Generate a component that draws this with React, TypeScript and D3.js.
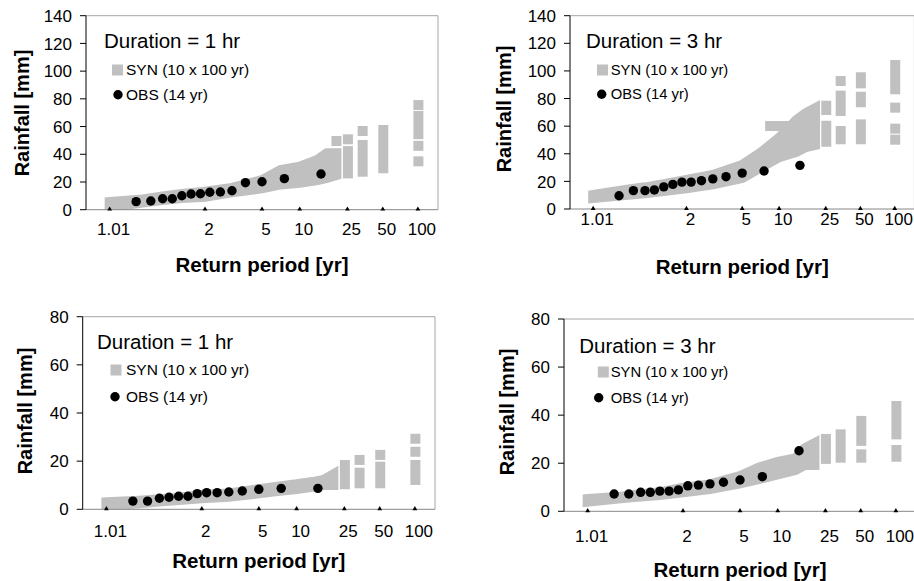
import * as d3 from "d3";

const FONT = "'Liberation Sans', Arial, sans-serif";
const SYN_GRAY = "#c0c0c0";
const BORDER = "#a6a6a6";

// return periods shown on the x axis
const X_TICKS = [1.01, 2, 5, 10, 25, 50, 100];

// observed series: Weibull plotting positions of 14 annual maxima
const OBS_T = [1.07, 1.15, 1.25, 1.36, 1.5, 1.67, 1.88, 2.14, 2.5, 3, 3.75, 5, 7.5, 15];
const OBS_1HR_A = [5.8, 6.3, 7.9, 7.9, 10.1, 11.3, 11.5, 12.6, 12.8, 13.7, 19.5, 20.2, 22.4, 25.8];
const OBS_3HR_A = [9.6, 13.3, 13.3, 13.8, 16.0, 17.8, 19.5, 19.5, 20.5, 21.8, 23.4, 26.0, 27.5, 31.6];
const OBS_1HR_B = [3.4, 3.4, 4.6, 5.0, 5.4, 5.4, 6.5, 6.9, 6.9, 7.2, 7.6, 8.3, 8.7, 8.7];
const OBS_3HR_B = [7.2, 7.2, 7.9, 7.9, 8.4, 8.4, 8.9, 10.6, 10.9, 11.4, 12.1, 13.0, 14.4, 25.2];

// synthetic series: dense part read as lower / upper envelope
const BAND_T = [1.01, 1.1, 1.25, 1.5, 2, 3, 5, 7, 10, 14, 16.8, 20.2];
const SYN_1HR_A_LO = [2.0, 5.2, 7.0, 8.4, 9.4, 12.6, 15.4, 18.2, 19.5, 21.4, 22.9, 25.0];
const SYN_1HR_A_HI = [5.5, 7.4, 9.5, 11.3, 13.0, 15.7, 21.4, 28.6, 31.0, 35.9, 40.7, 40.7];
const SYN_3HR_A_LO = [8.0, 10.1, 11.4, 13.0, 15.0, 17.9, 22.5, 30.0, 37.5, 41.3, 44.9, 46.4];
const SYN_3HR_A_HI = [10.1, 13.8, 15.7, 17.9, 21.0, 24.6, 31.9, 40.6, 51.4, 64.5, 69.3, 72.9];
const SYN_1HR_B_LO = [1.5, 2.5, 3.2, 3.9, 4.6, 5.2, 6.6, 7.6, 8.4, 9.4, 10.1, 10.1];
const SYN_1HR_B_HI = [2.9, 3.6, 4.2, 4.8, 5.9, 6.6, 8.4, 9.4, 10.4, 11.5, 12.2, 14.5];
const SYN_3HR_B_LO = [4.0, 5.4, 6.1, 6.8, 7.9, 9.3, 11.6, 13.4, 15.4, 17.2, 19.3, 19.3];
const SYN_3HR_B_HI = [5.1, 6.1, 7.1, 7.9, 9.8, 11.2, 14.7, 18.1, 20.6, 22.0, 26.2, 28.3];

// synthetic series: sparse top ranks, runs of squares [T, lowest, highest]
const SYN_1HR_A_RUNS: [number, number, number][] = [
  [20.2, 49.6, 49.6], [25.25, 50.8, 50.8], [25.25, 26.2, 42.3],
  [33.67, 56.8, 56.8], [33.67, 27.4, 46.7], [50.5, 29.9, 57.5],
  [101, 75.5, 75.5], [101, 54.5, 67.6], [101, 46.1, 46.1], [101, 34.9, 34.9],
];
const SYN_3HR_A_RUNS: [number, number, number][] = [
  [8.42, 60.1, 60.1], [9.18, 60.1, 60.1], [10.1, 60.1, 60.1], [11.2, 60.1, 60.1], [12.6, 60.1, 60.1],
  [25.25, 71.7, 74.8], [25.25, 48.7, 60.3],
  [33.67, 92.7, 92.7], [33.67, 71.0, 82.1], [33.67, 50.5, 56.5],
  [50.5, 91.0, 95.4], [50.5, 77.3, 81.3], [50.5, 50.5, 61.3],
  [101, 104.3, 104.3], [101, 86.7, 97.1], [101, 73.4, 73.4], [101, 58.2, 58.2], [101, 50.2, 50.2],
];
const SYN_1HR_B_RUNS: [number, number, number][] = [
  [25.25, 10.4, 18.4], [33.67, 20.5, 20.5], [33.67, 10.8, 15.2],
  [50.5, 22.6, 22.6], [50.5, 10.8, 17.7],
  [101, 29.3, 29.3], [101, 23.9, 23.9], [101, 12.2, 18.4],
];
const SYN_3HR_B_RUNS: [number, number, number][] = [
  [25.25, 21.8, 30.1], [33.67, 22.3, 32.0],
  [50.5, 29.3, 37.6], [50.5, 22.3, 23.7],
  [101, 32.0, 43.8], [101, 22.7, 25.5],
];

// Gumbel reduced variate of a return period
const gumbel = (T: number) => -Math.log(-Math.log(1 - 1 / T));

interface Layout {
  id: string;
  left: number; right: number; top: number; bottom: number;
  ymax: number;
  tickBase: number; titleBase: number; yTitleX: number; yTitleY: number;
  durX: number; durY: number;
  synX: number; synY: number; obsX: number; obsY: number; textX: number;
  legendSize: number;
}

interface PanelData {
  duration: string;
  obs: number[];
  lo: number[];
  hi: number[];
  runs: [number, number, number][];
}

const PANELS: { layout: Layout; data: PanelData }[] = [
  {
    layout: { id: "a", left: 86, right: 438, top: 15.7, bottom: 209.7, ymax: 140,
      tickBase: 234.5, titleBase: 272, yTitleX: 22, yTitleY: 113,
      durX: 104, durY: 48, synX: 117.5, synY: 70, obsX: 118, obsY: 94.7, textX: 126, legendSize: 15.5 },
    data: { duration: "Duration = 1 hr", obs: OBS_1HR_A, lo: SYN_1HR_A_LO, hi: SYN_1HR_A_HI, runs: SYN_1HR_A_RUNS },
  },
  {
    layout: { id: "b", left: 570, right: 914.4, top: 15.7, bottom: 209, ymax: 140,
      tickBase: 224.5, titleBase: 274, yTitleX: 503.5, yTitleY: 109,
      durX: 586, durY: 48.3, synX: 602.5, synY: 70, obsX: 601.7, obsY: 94.3, textX: 610.7, legendSize: 14.8 },
    data: { duration: "Duration = 3 hr", obs: OBS_3HR_A, lo: SYN_3HR_A_LO, hi: SYN_3HR_A_HI, runs: SYN_3HR_A_RUNS },
  },
  {
    layout: { id: "c", left: 82.7, right: 435, top: 316.7, bottom: 509.3, ymax: 80,
      tickBase: 537, titleBase: 568, yTitleX: 25, yTitleY: 411,
      durX: 97, durY: 349.3, synX: 116, synY: 370, obsX: 115, obsY: 396.7, textX: 126, legendSize: 15.5 },
    data: { duration: "Duration = 1 hr", obs: OBS_1HR_B, lo: SYN_1HR_B_LO, hi: SYN_1HR_B_HI, runs: SYN_1HR_B_RUNS },
  },
  {
    layout: { id: "d", left: 564, right: 916, top: 319, bottom: 511.3, ymax: 80,
      tickBase: 542, titleBase: 577, yTitleX: 507, yTitleY: 412,
      durX: 579.3, durY: 353.3, synX: 603.3, synY: 372, obsX: 598.7, obsY: 397.7, textX: 610.7, legendSize: 14.8 },
    data: { duration: "Duration = 3 hr", obs: OBS_3HR_B, lo: SYN_3HR_B_LO, hi: SYN_3HR_B_HI, runs: SYN_3HR_B_RUNS },
  },
];

function Panel({ layout: L, data: D }: { layout: Layout; data: PanelData }) {
  const x = d3.scaleLinear().domain([-2, 5]).range([L.left, L.right]);
  const y = d3.scaleLinear().domain([0, L.ymax]).range([L.bottom, L.top]);
  const xt = (T: number) => x(gumbel(T));
  const yTicks = y.ticks(L.ymax / 20);

  const band = d3
    .area<number>()
    .x((T) => xt(T))
    .y0((_, i) => y(D.lo[i]))
    .y1((_, i) => y(D.hi[i]));

  const tri = d3.symbol(d3.symbolTriangle, 10)();
  const clipId = `clip-${L.id}`;

  return (
    <g fontFamily={FONT}>
      <defs>
        <clipPath id={clipId}>
          <rect x={L.left} y={L.top} width={L.right - L.left} height={L.bottom - L.top} />
        </clipPath>
      </defs>

      {/* plot frame */}
      <line x1={L.left} x2={L.right} y1={L.top} y2={L.top} stroke={BORDER} />
      <line x1={L.right} x2={L.right} y1={L.top} y2={L.bottom} stroke={BORDER} />

      {/* synthetic series */}
      <g clipPath={`url(#${clipId})`}>
        <path
          d={band(BAND_T) ?? ""}
          fill={SYN_GRAY}
          stroke={SYN_GRAY}
          strokeWidth={10}
          strokeLinejoin="miter"
        />
        {D.runs.map(([T, lo, hi], i) => (
          <rect
            key={i}
            x={xt(T) - 5}
            width={10}
            y={y(hi) - 5}
            height={y(lo) - y(hi) + 10}
            fill={SYN_GRAY}
          />
        ))}
      </g>

      {/* observed */}
      {D.obs.map((v, i) => (
        <circle key={i} cx={xt(OBS_T[i])} cy={y(v)} r={4.7} fill="#000" />
      ))}

      {/* x axis */}
      <line x1={L.left} x2={L.right} y1={L.bottom} y2={L.bottom} stroke="#868686" />
      {X_TICKS.map((T) => (
        <g key={T}>
          <path d={tri ?? ""} transform={`translate(${xt(T)},${L.bottom - 0.5})`} fill="#000" />
          <text x={xt(T) + 4} y={L.tickBase} textAnchor="middle" fontSize={17} fill="#000">
            {T}
          </text>
        </g>
      ))}
      <text
        x={(L.left + L.right) / 2}
        y={L.titleBase}
        textAnchor="middle"
        fontSize={20.5}
        fontWeight="bold"
      >
        Return period [yr]
      </text>

      {/* y axis */}
      <line x1={L.left} x2={L.left} y1={L.top} y2={L.bottom} stroke="#000" />
      {yTicks.map((t) => (
        <g key={t}>
          <line x1={L.left - 6} x2={L.left} y1={y(t)} y2={y(t)} stroke="#000" />
          <text x={L.left - 14} y={y(t)} dy="0.36em" textAnchor="end" fontSize={17}>
            {t}
          </text>
        </g>
      ))}
      <text
        transform={`translate(${L.yTitleX},${L.yTitleY}) rotate(-90)`}
        textAnchor="middle"
        dy="0.35em"
        fontSize={20}
        fontWeight="bold"
      >
        Rainfall [mm]
      </text>

      {/* legend */}
      <text x={L.durX} y={L.durY} fontSize={20.5}>
        {D.duration}
      </text>
      <rect x={L.synX - 5.5} y={L.synY - 5.5} width={11} height={11} fill={SYN_GRAY} />
      <text x={L.textX} y={L.synY + 5} fontSize={L.legendSize}>
        SYN (10 x 100 yr)
      </text>
      <circle cx={L.obsX} cy={L.obsY} r={4.7} fill="#000" />
      <text x={L.textX} y={L.obsY + 4.8} fontSize={L.legendSize}>
        OBS (14 yr)
      </text>
    </g>
  );
}

export default function App() {
  return (
    <svg
      width={914}
      height={581}
      style={{ position: "absolute", left: 0, top: 0, background: "#fff" }}
    >
      <rect width={914} height={581} fill="#fff" />
      {PANELS.map((p) => (
        <Panel key={p.layout.id} layout={p.layout} data={p.data} />
      ))}
    </svg>
  );
}
